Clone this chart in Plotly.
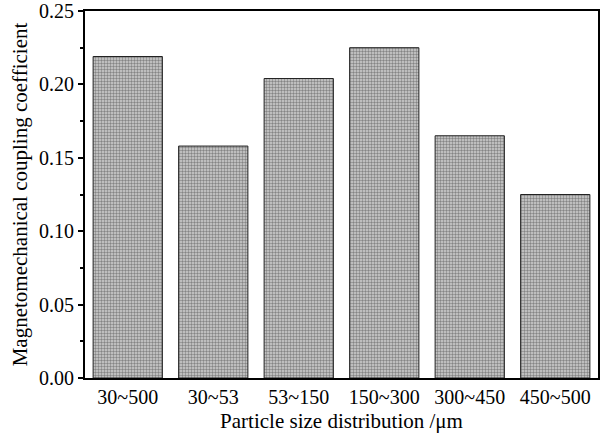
import plotly.graph_objects as go

categories = ["30~500", "30~53", "53~150", "150~300", "300~450", "450~500"]
coefficients = [0.219, 0.158, 0.204, 0.225, 0.165, 0.125]
y_tick_values = [0.00, 0.05, 0.10, 0.15, 0.20, 0.25]
y_tick_labels = ["0.00", "0.05", "0.10", "0.15", "0.20", "0.25"]

FONT = "Liberation Serif, Times New Roman, serif"

fig = go.Figure(go.Bar(
    x=categories,
    y=coefficients,
    marker=dict(
        color="#c8c8c8",
        line=dict(color="#222222", width=1),
        pattern=dict(shape=".", fgcolor="#3a3a3a", bgcolor="#d0d0d0",
                     size=3, solidity=0.5),
    ),
))

fig.update_layout(
    width=607, height=434,
    margin=dict(l=85, r=9, t=11, b=56),
    plot_bgcolor="white", paper_bgcolor="white",
    bargap=0.19,
    showlegend=False,
    font=dict(family=FONT, size=20, color="black"),
)

fig.update_xaxes(
    range=[-0.5, 5.5],
    automargin=False,
    showline=True, linecolor="black", linewidth=2, mirror=True,
    ticks="", showgrid=False,
    tickfont=dict(family=FONT, size=20),
    title=dict(text="Particle size distribution /μm", font=dict(family=FONT, size=21), standoff=6),
)
fig.update_yaxes(
    range=[0, 0.25],
    automargin=False,
    tickvals=y_tick_values, ticktext=y_tick_labels,
    showline=True, linecolor="black", linewidth=2, mirror=True,
    ticks="outside", ticklen=5, tickwidth=1.5, tickcolor="black",
    minor=dict(dtick=0.025, ticks="outside", ticklen=3, tickwidth=1.5, tickcolor="black", showgrid=False),
    showgrid=False, zeroline=False,
    tickfont=dict(family=FONT, size=20),
    title=dict(text="Magnetomechanical coupling coefficient", font=dict(family=FONT, size=21), standoff=6),
)

fig.write_html("out.html", config={"displayModeBar": False},
               post_script="document.body.style.margin='0';document.body.style.padding='0';")
